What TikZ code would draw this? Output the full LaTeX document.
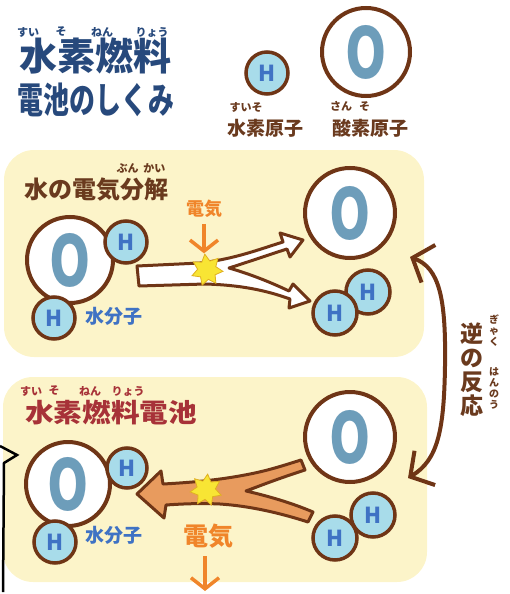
\documentclass[tikz,border=0pt]{standalone}
\usepackage{fontspec}
\setmainfont{Noto Sans CJK JP}
\usepackage{graphicx}
\usepackage{tikz}
\usetikzlibrary{shapes,arrows.meta}

\definecolor{panel}{HTML}{FCF4C9}
\definecolor{atombrown}{HTML}{6F3516}
\definecolor{oblue}{HTML}{6D9DBA}
\definecolor{hfill}{HTML}{A8DCEA}
\definecolor{hblue}{HTML}{3F72C4}
\definecolor{titleblue}{HTML}{27497C}
\definecolor{labelbrown}{HTML}{6A3A1E}
\definecolor{fcred}{HTML}{A73238}
\definecolor{elecorange}{HTML}{F0852A}
\definecolor{arroworange}{HTML}{E89B5E}
\definecolor{staryellow}{HTML}{F8E534}
\definecolor{staredge}{HTML}{E0B020}

\begin{document}
\begin{tikzpicture}[x=1pt,y=-1pt,
    oatom/.style={circle,draw=atombrown,fill=white,line width=4pt,
        minimum size=#1,inner sep=0pt,text=oblue,
        font=\bfseries\fontsize{70}{70}\selectfont},
    hatom/.style={circle,draw=atombrown,fill=hfill,line width=3.5pt,
        minimum size=#1,inner sep=0pt,text=hblue,
        font=\bfseries\fontsize{22}{22}\selectfont},
    ruby/.style={inner sep=0pt,font=\bfseries\fontsize{11}{11}\selectfont},
    atomname/.style={inner sep=0pt,text=labelbrown,
        font=\bfseries\fontsize{19}{19}\selectfont},
    molname/.style={inner sep=0pt,text=hblue,
        font=\bfseries\fontsize{19}{19}\selectfont},
    elecarrow/.style={draw=elecorange,line width=3.5pt,
        -{Straight Barb[length=11pt,width=28pt]}},
    ribbon/.style={draw=atombrown,line width=3pt,line join=round},
    spark/.style={star,star points=7,star point ratio=1.7,minimum size=32pt,
        inner sep=0pt,fill=staryellow,draw=staredge,line width=0.8pt},
    revarrow/.style={draw=atombrown,line width=4pt,line cap=round,
        {Straight Barb[length=17pt,width=40pt]}-{Straight Barb[length=17pt,width=40pt]}}]
\useasboundingbox (0,0) rectangle (509,594);

% panels
\fill[panel,rounded corners=30] (4,150) rectangle (424,357);
\fill[panel,rounded corners=30] (3,377) rectangle (427,582);

% title
\node[ruby,text=titleblue] (rsui) at (28,32) {すい};
\node[ruby,text=titleblue] (rso) at (61,32) {そ};
\node[ruby,text=titleblue] (rnen) at (102,32) {ねん};
\node[ruby,text=titleblue] (rryo) at (152,32) {りょう};
\node[inner sep=0pt,text=titleblue,font=\bfseries\fontsize{38}{38}\selectfont]
    (title1) at (95,56) {水素燃料};
\node[inner sep=0pt,text=titleblue,font=\bfseries\fontsize{36}{36}\selectfont]
    (title2) at (96,100) {\scalebox{0.72}[1]{電池のしくみ}};

% key to the atoms
\node[hatom=42pt] (hkey) at (267,73) {H};
\node[oatom=88pt] (okey) at (366,52) {\scalebox{0.75}[1]{O}};
\node[ruby,text=labelbrown] (rsuiso) at (246,107) {すいそ};
\node[atomname] (hname) at (265,128) {水素原子};
\node[ruby,text=labelbrown] (rsanso) at (350,106) {さん\hspace{7pt}そ};
\node[atomname] (oname) at (370,128) {酸素原子};

% electrolysis of water
\node[ruby,text=labelbrown] (rbunkai) at (141,168) {ぶん\hspace{5pt}かい};
\node[inner sep=0pt,text=labelbrown,font=\bfseries\fontsize{24}{24}\selectfont]
    (splittitle) at (96,190) {水の電気分解};

\filldraw[ribbon,fill=white] (137,266) -- (200,263)
    .. controls (235,259) and (260,249) .. (283,242)
    -- (280,233) -- (303,240) -- (290,257) -- (287,249)
    .. controls (265,256) and (245,263) .. (229,268)
    .. controls (250,274) and (270,282) .. (289,291)
    -- (293,284) -- (310,301) -- (289,308) -- (290,299)
    .. controls (265,290) and (240,285) .. (205,284)
    -- (139,286) -- cycle;
\node[spark,rotate=8] (spark1) at (207,270) {};
\node[inner sep=0pt,text=elecorange,font=\bfseries\fontsize{18}{18}\selectfont]
    (elec1) at (204,209) {電気};
\draw[elecarrow] (elec1.south) ++(0,6) -- (elec1.south |- spark1.north);

\node[oatom=86pt] (owater1) at (70,260) {\scalebox{0.75}[1]{O}};
\node[hatom=42pt] (hwater1a) at (126,242) {H};
\node[hatom=42pt] (hwater1b) at (54,318) {H};
\node[molname] (water1) at (114,316) {水分子};

\node[oatom=90pt] (oout) at (350,213) {\scalebox{0.75}[1]{O}};
\node[hatom=44pt] (hout1) at (368,292) {H};
\node[hatom=44pt] (hout2) at (335,313) {H};

% fuel cell
\node[ruby,text=fcred] (rsui2) at (31,391) {すい};
\node[ruby,text=fcred] (rso2) at (54,391) {そ};
\node[ruby,text=fcred] (rnen2) at (90,391) {ねん};
\node[ruby,text=fcred] (rryo2) at (128,391) {りょう};
\node[inner sep=0pt,text=fcred,font=\bfseries\fontsize{26}{26}\selectfont]
    (celltitle) at (111,413) {\scalebox{1.1}[1]{水素燃料電池}};

\filldraw[ribbon,fill=arroworange] (137,494) -- (161,471) -- (163,484)
    .. controls (200,482) and (225,479) .. (250,474)
    .. controls (270,470) and (285,465) .. (301,460)
    -- (305,470)
    .. controls (280,478) and (262,485) .. (246,491)
    .. controls (268,496) and (292,503) .. (313,512)
    -- (308,522)
    .. controls (280,513) and (250,506) .. (220,504)
    .. controls (200,503) and (180,504) .. (166,505)
    -- (164,518) -- cycle;
\node[spark,rotate=-6] (spark2) at (206,490) {};
\node[inner sep=0pt,text=elecorange,font=\bfseries\fontsize{25}{25}\selectfont]
    (elec2) at (208,536) {電気};
\coordinate (elecout) at (205,591);
\draw[elecarrow,shorten <=8pt] (elec2.south -| elecout) -- (elecout);

\node[oatom=84pt] (owater2) at (68,484) {\scalebox{0.75}[1]{O}};
\node[hatom=40pt] (hwater2a) at (127,468) {H};
\node[hatom=42pt] (hwater2b) at (55,542) {H};
\node[molname] (water2) at (114,535) {水分子};

\node[oatom=90pt] (oin) at (350,437) {\scalebox{0.75}[1]{O}};
\node[hatom=44pt] (hin1) at (373,515) {H};
\node[hatom=44pt] (hin2) at (335,538) {H};

% the reverse reaction
\coordinate (revtop) at (410,257);
\coordinate (revbot) at (408,478);
\draw[revarrow] (revtop) .. controls (440,268) and (446,300) .. (445,366)
    .. controls (444,430) and (438,460) .. (revbot);
\node[inner sep=0pt,text=labelbrown,align=center,
    font=\bfseries\fontsize{23}{24}\selectfont] (reverse) at (472,370) {逆\\の\\反\\応};
\node[ruby,text=labelbrown,align=center,font=\bfseries\fontsize{10}{11}\selectfont]
    (rgyaku) at (494,331) {ぎ\\ゃ\\く};
\node[ruby,text=labelbrown,align=center,font=\bfseries\fontsize{10}{11}\selectfont]
    (rhannou) at (494,388) {は\\ん\\の\\う};

% edge of a speech bubble
\draw[line width=2.5pt] (0,446) -- (17,455) -- (4,463) -- (3,592);
\end{tikzpicture}
\end{document}
